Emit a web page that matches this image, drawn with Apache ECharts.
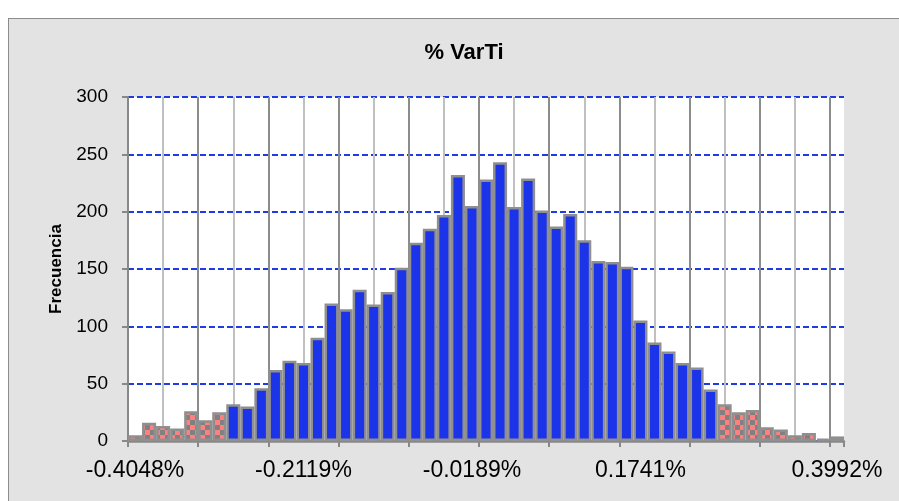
<!DOCTYPE html>
<html>
<head>
<meta charset="utf-8">
<title>% VarTi</title>
<script src="https://cdn.jsdelivr.net/npm/echarts@6/dist/echarts.min.js"></script>
<style>
  html, body { margin: 0; padding: 0; background: #ffffff; }
  #wrap { position: relative; width: 899px; height: 501px; overflow: hidden; }
  #frame {
    position: absolute; left: 8px; top: 18px; width: 1000px; height: 600px;
    background: #e3e3e3; border: 1.5px solid #8c8c8c; box-sizing: border-box;
  }
  #chart { position: absolute; left: 0; top: 0; width: 899px; height: 501px; }
</style>
</head>
<body>
<div id="wrap">
  <div id="frame"></div>
  <div id="chart"></div>
</div>
<script>
// Frequency per bin of % VarTi: lower tail, central body, upper tail
const lowerTail = [5, 16, 13, 11, 26, 18, 25];
const centralBody = [32, 30, 46, 62, 70, 68, 90, 120, 115, 132, 119, 130, 151, 173,
  185, 197, 232, 205, 228, 243, 204, 229, 201, 187, 198, 175, 157, 156, 152, 105,
  86, 78, 68, 64, 45];
const upperTail = [32, 25, 27, 12, 10, 5, 7, 2, 4];

// Labelled bins on the horizontal axis
const tickBins = [0, 12, 24, 36, 50];
const tickLabels = ['-0.4048%', '-0.2119%', '-0.0189%', '0.1741%', '0.3992%'];

const yTicks = [0, 50, 100, 150, 200, 250, 300];

const counts = lowerTail.concat(centralBody, upperTail);
const bins = counts.map((_, i) => 'bin' + i);

// Checkerboard fill for tail bins
function checkerPattern(cell) {
  const c = document.createElement('canvas');
  c.width = cell * 2; c.height = cell * 2;
  const g = c.getContext('2d');
  g.fillStyle = '#ff8080';
  g.fillRect(0, 0, cell * 2, cell * 2);
  g.fillStyle = '#808080';
  g.fillRect(0, 0, cell, cell);
  g.fillRect(cell, cell, cell, cell);
  return { image: c, repeat: 'repeat' };
}
const tailFill = checkerPattern(5);

const bodyStart = lowerTail.length;
const bodyEnd = lowerTail.length + centralBody.length;
const barData = counts.map((v, i) => {
  const isTail = i < bodyStart || i >= bodyEnd;
  return isTail ? { value: v, itemStyle: { color: tailFill } } : v;
});

const chart = echarts.init(document.getElementById('chart'), null, { renderer: 'canvas' });

chart.setOption({
  backgroundColor: 'transparent',
  animation: false,
  title: {
    text: '% VarTi',
    left: 459,
    textAlign: 'center',
    top: 37,
    textStyle: { fontFamily: 'Liberation Sans', fontSize: 22, fontWeight: 'bold', color: '#000' }
  },
  grid: {
    left: 128, right: 55, top: 97, bottom: 60,
    show: true, backgroundColor: '#ffffff', borderWidth: 0,
    outerBoundsMode: 'none'
  },
  xAxis: [
    {
      type: 'category',
      data: bins,
      boundaryGap: true,
      axisLine: { show: true, lineStyle: { color: '#888888', width: 2.5 } },
      axisTick: { show: true, interval: 4, length: 6, lineStyle: { color: '#888888', width: 2 } },
      axisLabel: {
        interval: (idx) => tickBins.indexOf(idx) >= 0,
        formatter: (val, idx) => tickLabels[tickBins.indexOf(idx)] || '',
        fontFamily: 'Liberation Sans', fontSize: 23, color: '#000', margin: 18
      },
      splitLine: { show: false }
    },
    {
      // bin-scale axis carrying the vertical grid lines
      type: 'value',
      position: 'bottom',
      min: 0, max: counts.length, interval: 2.5,
      axisLine: { show: false }, axisTick: { show: false }, axisLabel: { show: false },
      splitLine: {
        show: true, showMaxLine: false,
        lineStyle: { color: ['#8c8c8c', '#c0c0c0'], width: 2 }
      }
    }
  ],
  yAxis: {
    type: 'value',
    min: yTicks[0], max: yTicks[yTicks.length - 1], interval: 50,
    name: 'Frecuencia',
    nameLocation: 'middle',
    nameRotate: 90,
    nameGap: 63,
    nameTextStyle: { fontFamily: 'Liberation Sans', fontSize: 17, fontWeight: 'bold', color: '#000' },
    axisLine: { show: true, lineStyle: { color: '#888888', width: 2 } },
    axisTick: { show: true, length: 6, lineStyle: { color: '#888888', width: 2 } },
    axisLabel: { fontFamily: 'Liberation Sans', fontSize: 19, color: '#000', margin: 20 },
    splitLine: { show: true, lineStyle: { color: '#1f3be3', width: 2, type: [6, 3] } }
  },
  series: [{
    type: 'bar',
    xAxisIndex: 0,
    yAxisIndex: 0,
    data: barData,
    barCategoryGap: '0%',
    itemStyle: { color: '#1b33e9', borderColor: '#8f8f8f', borderWidth: 2.5 },
    emphasis: { disabled: true }
  }]
});
</script>
</body>
</html>
